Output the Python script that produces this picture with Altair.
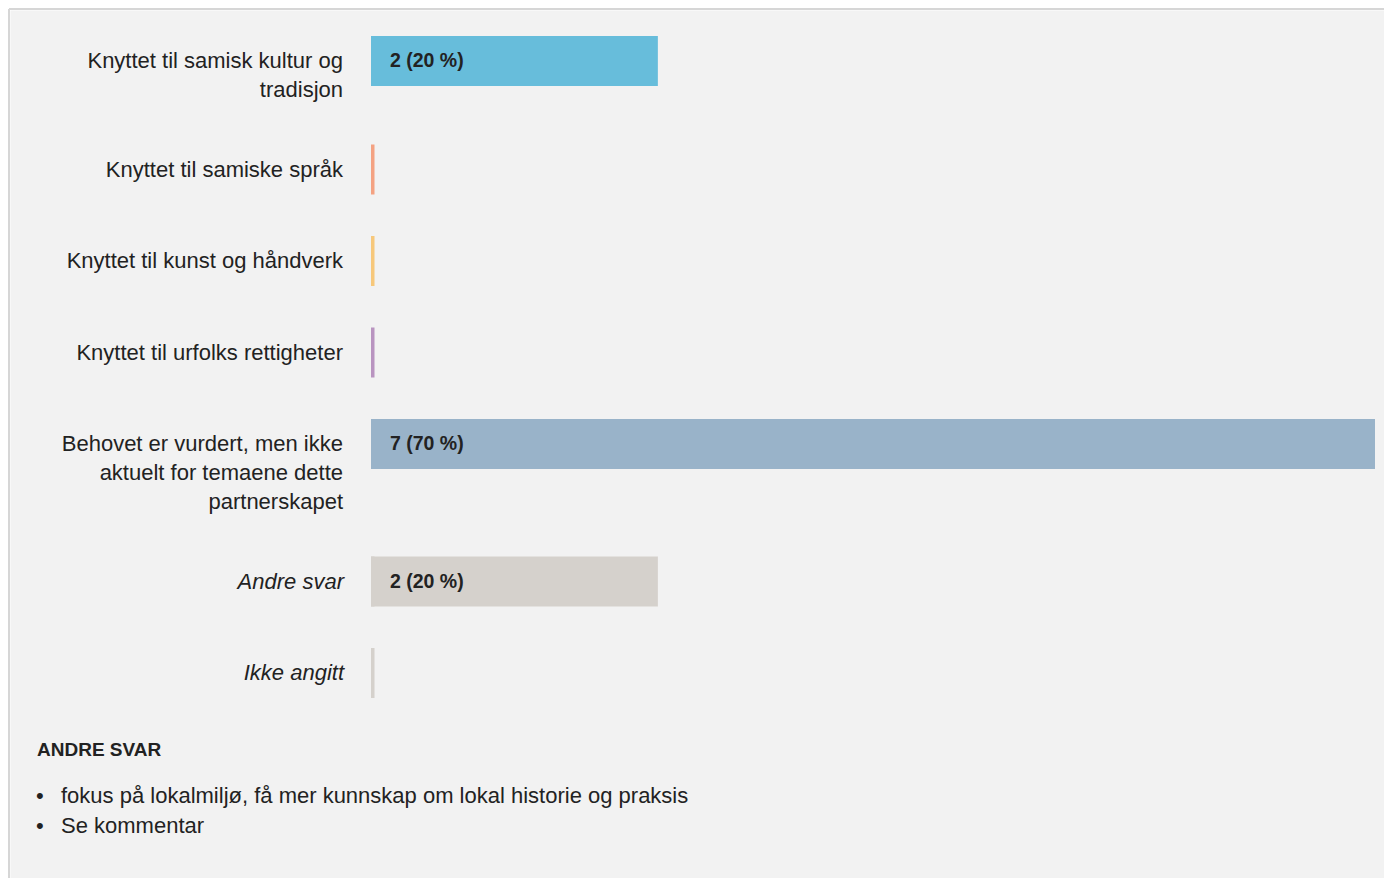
import altair as alt
import pandas as pd

# ---- data -------------------------------------------------------------
categories = [
    "Knyttet til samisk kultur og tradisjon",
    "Knyttet til samiske språk",
    "Knyttet til kunst og håndverk",
    "Knyttet til urfolks rettigheter",
    "Behovet er vurdert, men ikke aktuelt for temaene dette partnerskapet",
    "Andre svar",
    "Ikke angitt",
]
label_lines = [
    ["Knyttet til samisk kultur og", "tradisjon"],
    ["Knyttet til samiske språk"],
    ["Knyttet til kunst og håndverk"],
    ["Knyttet til urfolks rettigheter"],
    ["Behovet er vurdert, men ikke", "aktuelt for temaene dette", "partnerskapet"],
    ["Andre svar"],
    ["Ikke angitt"],
]
counts = [2, 0, 0, 0, 7, 2, 0]
percents = [20, 0, 0, 0, 70, 20, 0]
colors = ["#67bddb", "#f4a282", "#f7c87b", "#b994c0", "#99b3c9", "#d5d1cc", "#d5d1cc"]
italic = [False, False, False, False, False, True, True]
other_heading = "ANDRE SVAR"
other_answers = [
    "fokus på lokalmiljø, få mer kunnskap om lokal historie og praksis",
    "Se kommentar",
]

# ---- layout (pixels) ---------------------------------------------------
W, H = 1374, 868
TOP = 26
BAR_H = 50
LINE_H = 29
ROW_GAP = 41.5
FONT = "Liberation Sans"
TXT = "#222222"
LABEL_SIZE = 22

rows = []
y = TOP
for cat, lines, c, p, col, it in zip(categories, label_lines, counts, percents, colors, italic):
    content = max(BAR_H, LINE_H * len(lines) + 9)
    rows.append(dict(cat=cat, top=y, bottom=y + BAR_H, mid=y + BAR_H / 2, zero=0,
                     pct=p, count=c, color=col, italic=it, nlines=len(lines),
                     vlabel=f"{c} ({p} %)"))
    y += content + ROW_GAP
end_y = y + 10
rows_df = pd.DataFrame(rows)

line_recs = []
for r, lines in zip(rows, label_lines):
    for i, t in enumerate(lines):
        line_recs.append(dict(text=t, y=r["mid"] + i * LINE_H, zero=0, italic=r["italic"]))
lines_df = pd.DataFrame(line_recs)

heading_df = pd.DataFrame([dict(text=other_heading, y=end_y)])
items_df = pd.DataFrame([dict(text=t, y=end_y + 46 + i * 30, bullet="•")
                         for i, t in enumerate(other_answers)])

xscale = alt.Scale(domain=[0, max(percents)], range=[361, 1365], zero=False, nice=False)
yscale = alt.Scale(domain=[0, H], range=[0, H], zero=False, nice=False)

X0 = alt.X("zero:Q", scale=xscale, axis=None)

stubs = alt.Chart(rows_df).mark_rect(x2Offset=3.5).encode(
    x=X0, x2="zero:Q",
    y=alt.Y("top:Q", scale=yscale, axis=None), y2="bottom:Q",
    color=alt.Color("color:N", scale=None),
)
bars = alt.Chart(rows_df[rows_df.pct > 0]).mark_rect().encode(
    x=X0, x2="pct:Q",
    y=alt.Y("top:Q", scale=yscale, axis=None), y2="bottom:Q",
    color=alt.Color("color:N", scale=None),
)
vtext = alt.Chart(rows_df[rows_df["count"] > 0]).mark_text(
    align="left", baseline="middle", dx=19, font=FONT, fontSize=19.5,
    fontWeight="bold", color=TXT,
).encode(x=X0, y=alt.Y("mid:Q", scale=yscale, axis=None), text="vlabel:N")

lab_normal = alt.Chart(lines_df[~lines_df.italic]).mark_text(
    align="right", baseline="middle", dx=-28, font=FONT, fontSize=LABEL_SIZE, color=TXT,
).encode(x=X0, y=alt.Y("y:Q", scale=yscale, axis=None), text="text:N")
lab_italic = alt.Chart(lines_df[lines_df.italic]).mark_text(
    align="right", baseline="middle", dx=-27, font=FONT, fontSize=LABEL_SIZE, color=TXT,
    fontStyle="italic",
).encode(x=X0, y=alt.Y("y:Q", scale=yscale, axis=None), text="text:N")

heading = alt.Chart(heading_df).mark_text(
    align="left", baseline="middle", font=FONT, fontSize=19, fontWeight="bold", color=TXT,
).encode(x=alt.value(27), y=alt.Y("y:Q", scale=yscale, axis=None), text="text:N")
bullets = alt.Chart(items_df).mark_text(
    align="left", baseline="middle", font=FONT, fontSize=LABEL_SIZE, color=TXT,
).encode(x=alt.value(26), y=alt.Y("y:Q", scale=yscale, axis=None), text="bullet:N")
items = alt.Chart(items_df).mark_text(
    align="left", baseline="middle", font=FONT, fontSize=LABEL_SIZE, color=TXT,
).encode(x=alt.value(51), y=alt.Y("y:Q", scale=yscale, axis=None), text="text:N")

border_top = alt.Chart(heading_df).mark_rule(color="#d6d6d6", strokeWidth=2).encode(
    x=alt.value(-1), x2=alt.value(W), y=alt.value(-1))
border_left = alt.Chart(heading_df).mark_rule(color="#d6d6d6", strokeWidth=2).encode(
    x=alt.value(-1), y=alt.value(-1), y2=alt.value(H))

chart = alt.layer(
    border_top, border_left, stubs, bars, vtext, lab_normal, lab_italic, heading, bullets, items
).properties(
    width=W, height=H,
    autosize=alt.AutoSizeParams(type="none"),
    padding={"left": 2, "top": 2, "right": 0, "bottom": 0},
    background="white",
).configure_view(fill="#f2f2f2", strokeOpacity=0)

chart.save("out.html", embed_options={"renderer": "svg", "actions": False})
